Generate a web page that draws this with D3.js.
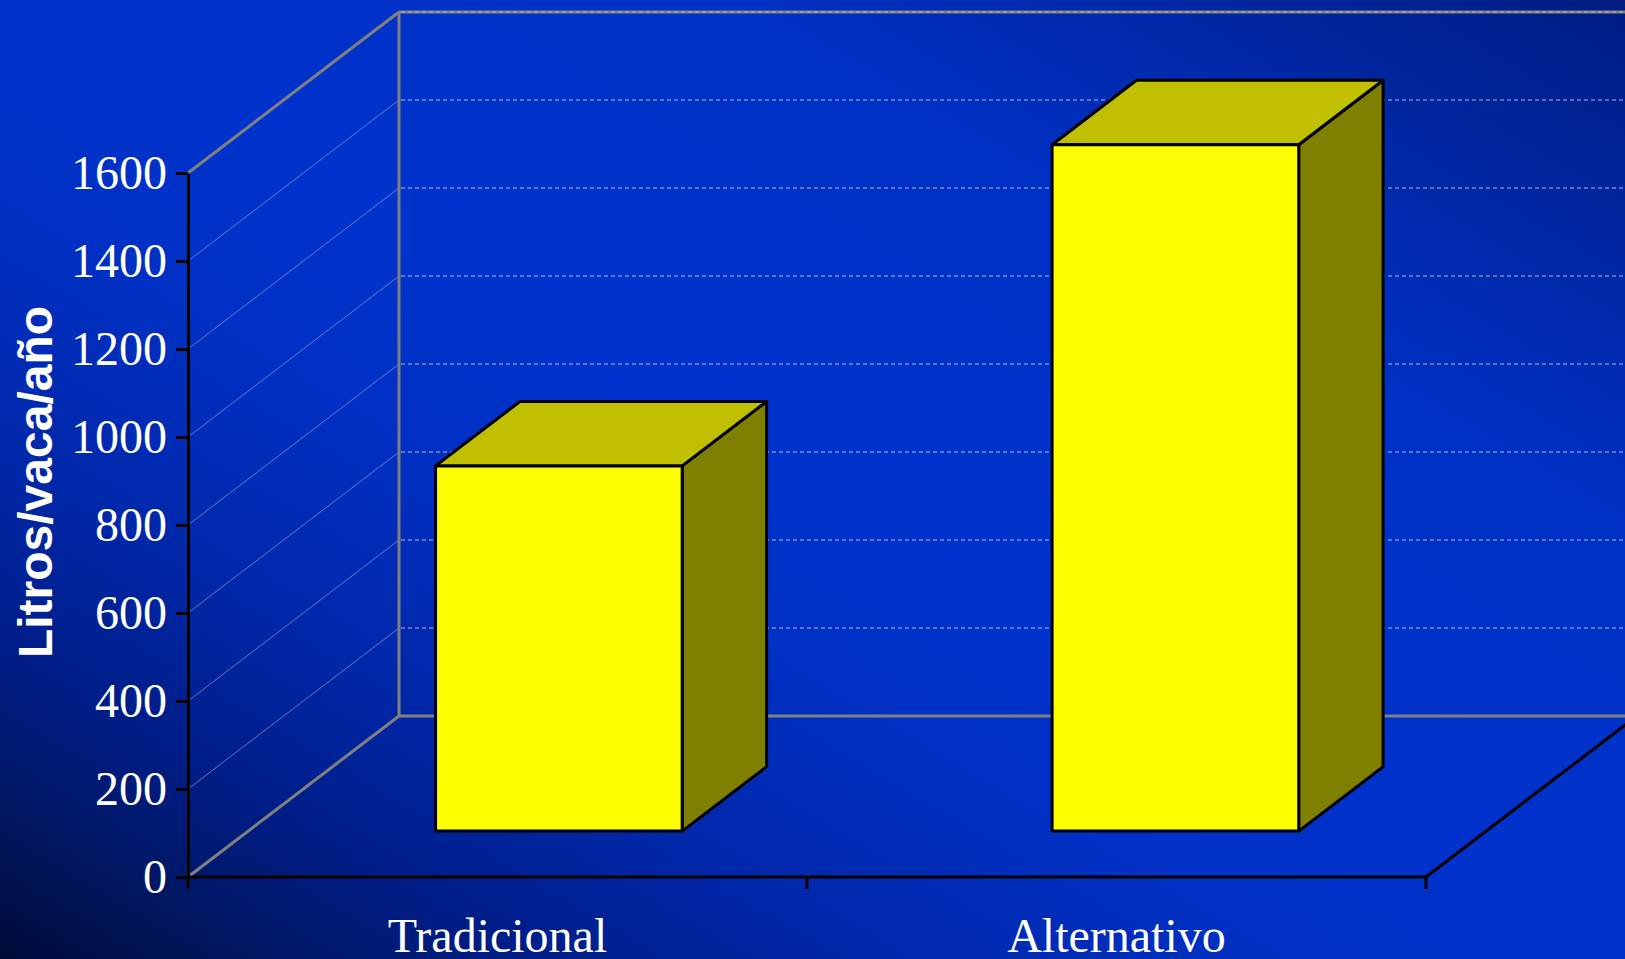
<!DOCTYPE html>
<html>
<head>
<meta charset="utf-8">
<script src="https://cdn.jsdelivr.net/npm/d3@7"></script>
<style>
  html, body { margin: 0; padding: 0; background: #0033cc; overflow: hidden; }
  svg { display: block; }
</style>
</head>
<body>
<svg id="chart" width="1625" height="959"></svg>
<script>
// Milk yield per cow and year, two production systems
const categories = ["Tradicional", "Alternativo"];
const values = [830, 1560];
const yTicks = [0, 200, 400, 600, 800, 1000, 1200, 1400, 1600];
const yTitle = "Litros/vaca/año";

(function () {
const W = 1625, H = 959;
const svg = d3.select("#chart");

// Background: diagonal gradient, dark in lower-left and upper-right corners
const defs = svg.append("defs");
const grad = defs.append("linearGradient")
  .attr("id", "bg").attr("x1", 0).attr("y1", 1).attr("x2", 1).attr("y2", 0);
[[0, "#000a38"], [0.07, "#00165c"], [0.16, "#001d86"], [0.26, "#0027a8"],
 [0.4, "#0030c4"], [0.5, "#0033cc"], [0.72, "#0031c6"], [0.9, "#00249a"], [1, "#001c82"]]
  .forEach(([o, c]) => grad.append("stop").attr("offset", o).attr("stop-color", c));
svg.append("rect").attr("width", W).attr("height", H).attr("fill", "url(#bg)");

// Plot frame: front axes and the oblique depth of the 3D box
const plotL = 188, plotR = 1426, plotB = 877, plotT = 173;
const depth = { dx: 211, dy: -161 };
const barFront = 0.285, barBack = 0.685;

const y = d3.scaleLinear().domain([0, 1600]).range([plotB, plotT]);
const xCat = d3.scaleBand().domain(categories).range([plotL, plotR]);
const xBar = d3.scaleBand().domain(categories).range([plotL, plotR])
  .paddingInner(0.6).paddingOuter(0.304);

const backX = plotL + depth.dx;
const g = svg.append("g");

// Side wall gridlines (diagonal)
g.selectAll("line.side").data(yTicks.filter(t => t > 0 && t < 1600)).join("line")
  .attr("class", "side")
  .attr("x1", plotL).attr("y1", d => y(d))
  .attr("x2", backX).attr("y2", d => y(d) + depth.dy)
  .attr("stroke", "#9aa6d6").attr("stroke-opacity", 0.65).attr("stroke-width", 1);

// Wall edges
const edges = [
  [plotL, y(1600), backX, y(1600) + depth.dy],
  [plotL, y(0), backX, y(0) + depth.dy],
  [backX, y(1600) + depth.dy, backX, y(0) + depth.dy],
  [backX, y(1600) + depth.dy, W + 20, y(1600) + depth.dy],
  [backX, y(0) + depth.dy, W + 20, y(0) + depth.dy]
];
g.selectAll("line.edge").data(edges).join("line")
  .attr("class", "edge")
  .attr("x1", d => d[0]).attr("y1", d => d[1]).attr("x2", d => d[2]).attr("y2", d => d[3])
  .attr("stroke", "#808080").attr("stroke-width", 3);

// Back wall gridlines (dashed)
g.selectAll("line.back").data(yTicks.filter(t => t > 0)).join("line")
  .attr("class", "back")
  .attr("x1", backX + 2).attr("y1", d => y(d) + depth.dy)
  .attr("x2", W + 20).attr("y2", d => y(d) + depth.dy)
  .attr("stroke", "#b4b8cc").attr("stroke-width", 1).attr("stroke-dasharray", "4,3");

// Floor right edge
g.append("line")
  .attr("x1", plotR).attr("y1", plotB)
  .attr("x2", plotR + depth.dx).attr("y2", plotB + depth.dy)
  .attr("stroke", "#000").attr("stroke-width", 3);

// Y axis
const yAxis = d3.axisLeft(y).tickValues(yTicks).tickFormat(d3.format("d"))
  .tickSize(12).tickSizeOuter(0).tickPadding(9);
const ya = svg.append("g").attr("transform", `translate(${plotL},0)`).call(yAxis);
ya.select(".domain").attr("stroke", "#000").attr("stroke-width", 3);
ya.selectAll(".tick line").attr("stroke", "#000").attr("stroke-width", 3);
ya.selectAll(".tick text")
  .attr("fill", "#fff")
  .attr("font-family", "'Liberation Serif', 'Times New Roman', serif")
  .attr("font-size", 48)
  .attr("dy", "0.33em");

// X axis: line, boundary ticks, centered category labels
svg.append("line")
  .attr("x1", plotL - 1.5).attr("y1", plotB).attr("x2", plotR + 1.5).attr("y2", plotB)
  .attr("stroke", "#000").attr("stroke-width", 3);
const bounds = categories.map(c => xCat(c))
  .concat([xCat(categories[categories.length - 1]) + xCat.bandwidth()]);
svg.selectAll("line.xtick").data(bounds).join("line")
  .attr("class", "xtick")
  .attr("x1", d => d).attr("x2", d => d).attr("y1", plotB).attr("y2", plotB + 12)
  .attr("stroke", "#000").attr("stroke-width", 3);
svg.selectAll("text.xlab").data(categories).join("text")
  .attr("class", "xlab")
  .attr("x", d => xCat(d) + xCat.bandwidth() / 2)
  .attr("y", 952)
  .attr("text-anchor", "middle")
  .attr("fill", "#fff")
  .attr("font-family", "'Liberation Serif', 'Times New Roman', serif")
  .attr("font-size", 48)
  .text(d => d);

// Y axis title
svg.append("text")
  .attr("transform", "translate(52,482) rotate(-90)")
  .attr("text-anchor", "middle")
  .attr("fill", "#fff")
  .attr("font-family", "'Liberation Sans', Arial, sans-serif")
  .attr("font-weight", "bold")
  .attr("font-size", 48)
  .text(yTitle);

// 3D bars: front, top and side faces
const bars = categories.map((c, i) => {
  const ox = barFront * depth.dx, oy = barFront * depth.dy;
  const bx = (barBack - barFront) * depth.dx, by = (barBack - barFront) * depth.dy;
  const x0 = xBar(c) + ox, x1 = x0 + xBar.bandwidth();
  const y0 = y(0) + oy, y1 = y(values[i]) + oy;
  return {
    front: [[x0, y0], [x0, y1], [x1, y1], [x1, y0]],
    top: [[x0, y1], [x0 + bx, y1 + by], [x1 + bx, y1 + by], [x1, y1]],
    side: [[x1, y0], [x1, y1], [x1 + bx, y1 + by], [x1 + bx, y0 + by]]
  };
});
const bg = svg.append("g")
  .attr("stroke", "#000").attr("stroke-width", 3).attr("stroke-linejoin", "round");
const poly = p => "M" + p.map(q => q.join(",")).join("L") + "Z";
bars.forEach(b => {
  bg.append("path").attr("d", poly(b.side)).attr("fill", "#808000");
  bg.append("path").attr("d", poly(b.top)).attr("fill", "#c0c000");
  bg.append("path").attr("d", poly(b.front)).attr("fill", "#ffff00");
});
})();
</script>
</body>
</html>
